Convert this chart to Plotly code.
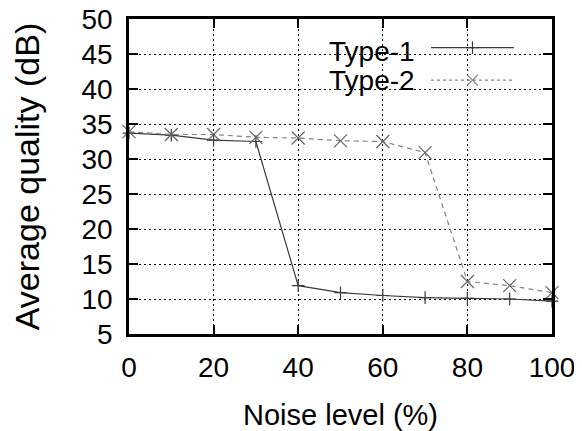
import plotly.graph_objects as go

# noise level (%) on the x axis
noise = [0, 10, 20, 30, 40, 50, 60, 70, 80, 90, 100]

# average quality (dB)
type1 = [33.7, 33.4, 32.7, 32.5, 11.9, 10.9, 10.5, 10.2, 10.1, 10.0, 9.7]
type2 = [33.9, 33.5, 33.5, 33.1, 33.0, 32.6, 32.5, 30.9, 12.5, 11.9, 10.9]

names = ["Type-1", "Type-2"]
x_ticks = [0, 20, 40, 60, 80, 100]
y_ticks = [5, 10, 15, 20, 25, 30, 35, 40, 45, 50]

font = "Liberation Sans, Arial, sans-serif"
c1 = "#3a3a3a"
c2 = "#858585"

fig = go.Figure()

fig.add_trace(go.Scatter(
    x=noise, y=type1, name=names[0], mode="lines+markers",
    line=dict(color=c1, width=1.2),
    marker=dict(symbol="cross-thin", size=9, color=c1, line=dict(color=c1, width=1.2)),
    cliponaxis=False, showlegend=False,
))
fig.add_trace(go.Scatter(
    x=noise, y=type2, name=names[1], mode="lines+markers",
    line=dict(color=c2, width=1.2, dash="5px,4px"),
    marker=dict(symbol="x-thin", size=13, color=c2, line=dict(color="#666666", width=1.2)),
    cliponaxis=False, showlegend=False,
))

# hand-made legend: label on the left, sample on the right (gnuplot style)
leg_x0, leg_x1, leg_text = 0.714, 0.910, 0.681
line_rows = [0.909, 0.806]
text_rows = [0.898, 0.806]
styles = [(c1, "solid", "cross-thin", 9), (c2, "3px,3px", "x-thin", 11)]
for name, ly, ty, (col, dash, sym, size) in zip(names, line_rows, text_rows, styles):
    fig.add_shape(type="line", xref="paper", yref="paper",
                  x0=leg_x0, x1=leg_x1, y0=ly, y1=ly,
                  line=dict(color=col, width=1.2, dash=dash))
    fig.add_annotation(x=leg_text, y=ty, xref="paper", yref="paper",
                       text=name, showarrow=False, xanchor="right", yanchor="middle",
                       font=dict(family=font, size=28, color="black"))
    fig.add_trace(go.Scatter(
        x=[(leg_x0 + leg_x1) / 2], y=[ly], xaxis="x2", yaxis="y2",
        mode="markers", showlegend=False, hoverinfo="skip",
        marker=dict(symbol=sym, size=size, color=col, line=dict(color=col, width=1.2)),
    ))

axis_common = dict(
    showline=True, linecolor="black", linewidth=2.5, mirror="ticks",
    ticks="inside", ticklen=9, tickwidth=2, tickcolor="black",
    showgrid=True, gridcolor="black", gridwidth=1, griddash="2px,3px",
    zeroline=False, automargin=False, ticklabeloverflow="allow",
    tickfont=dict(family=font, size=28, color="black"),
)

# page body has an 8px margin, so the figure is 8px smaller each way
fig.update_layout(
    template="none",
    width=574, height=423,
    margin=dict(l=121, r=30, t=11, b=97),
    paper_bgcolor="white", plot_bgcolor="white",
    font=dict(family=font, color="black"),
    xaxis=dict(range=[0, 100], tickvals=x_ticks, ticklabelstandoff=7,
               title=dict(text="Noise level (%)", font=dict(family=font, size=29), standoff=26),
               **axis_common),
    yaxis=dict(range=[5, 50], tickvals=y_ticks, ticklabelstandoff=8,
               title=dict(text="Average quality (dB)", font=dict(family=font, size=34), standoff=40),
               **axis_common),
    xaxis2=dict(overlaying="x", range=[0, 1], visible=False),
    yaxis2=dict(overlaying="y", range=[0, 1], visible=False),
)

fig.write_html("out.html")
